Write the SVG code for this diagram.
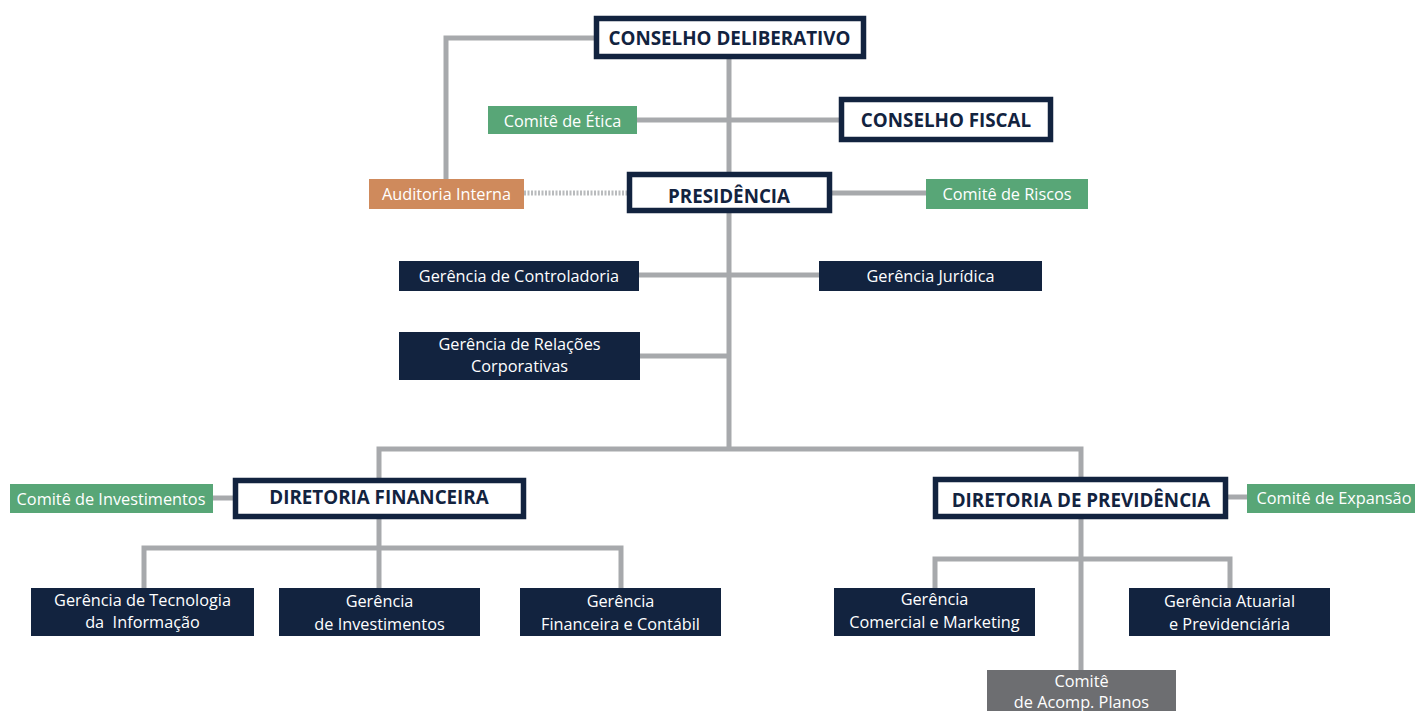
<svg xmlns="http://www.w3.org/2000/svg" width="1415" height="711" viewBox="0 0 1415 711">
<style>
.ln{stroke:#a7a9ac;stroke-width:5;fill:none}
.dot{stroke:#b9bbbd;stroke-width:5;stroke-dasharray:2 1.5;fill:none}
.big{fill:#fff;stroke:#12233f;stroke-width:5.5}
.bt{font-family:"Open Sans","Liberation Sans",sans-serif;font-weight:bold;font-size:18.8px;fill:#12233f;text-anchor:middle;dominant-baseline:central}
.navy{fill:#12233f}
.green{fill:#58a677}
.orange{fill:#cf8a5c}
.grey{fill:#6d6e71}
.t{font-family:"Open Sans","Liberation Sans",sans-serif;font-size:16.3px;fill:#fff;text-anchor:middle;dominant-baseline:central}
</style>
<rect width="1415" height="711" fill="#fff"/>
<g id="connectors">
<path class="ln" d="M729 59V449"/>
<path class="ln" d="M594 38H446V179"/>
<path class="ln" d="M637 120H840"/>
<path class="dot" d="M524 193H627"/>
<path class="ln" d="M832 193H926"/>
<path class="ln" d="M639 275H819"/>
<path class="ln" d="M640 356H729"/>
<path class="ln" d="M379 478V449H1081V478"/>
<path class="ln" d="M213 498H233"/>
<path class="ln" d="M379 518V588"/>
<path class="ln" d="M144 588V548H621V588"/>
<path class="ln" d="M1228 497H1247"/>
<path class="ln" d="M1081 519V670"/>
<path class="ln" d="M935 588V559H1230V588"/>
</g>
<g id="conselho-deliberativo"><rect class="big" x="596.5" y="18.5" width="267" height="38"/><text class="bt" x="729.5" y="38">CONSELHO DELIBERATIVO</text></g>
<g id="comite-etica"><rect class="green" x="488" y="106" width="149" height="28"/><text class="t" x="562.5" y="121">Comitê de Ética</text></g>
<g id="conselho-fiscal"><rect class="big" x="841.5" y="99.5" width="209" height="40"/><text class="bt" x="946" y="120">CONSELHO FISCAL</text></g>
<g id="auditoria-interna"><rect class="orange" x="369" y="179" width="155" height="30"/><text class="t" x="446.5" y="194">Auditoria Interna</text></g>
<g id="presidencia"><rect class="big" x="629.5" y="174.5" width="200" height="36"/><text class="bt" x="729" y="195.5">PRESIDÊNCIA</text></g>
<g id="comite-riscos"><rect class="green" x="926" y="179" width="162" height="30"/><text class="t" x="1007" y="194">Comitê de Riscos</text></g>
<g id="gerencia-controladoria"><rect class="navy" x="399" y="261" width="240" height="30"/><text class="t" x="519" y="276">Gerência de Controladoria</text></g>
<g id="gerencia-juridica"><rect class="navy" x="819" y="261" width="223" height="30"/><text class="t" x="930.5" y="276">Gerência Jurídica</text></g>
<g id="gerencia-relacoes"><rect class="navy" x="399" y="332" width="241" height="48"/><text class="t" x="519.5" y="344">Gerência de Relações</text><text class="t" x="519.5" y="366">Corporativas</text></g>
<g id="comite-investimentos"><rect class="green" x="10" y="484" width="203" height="29"/><text class="t" x="111" y="498.5">Comitê de Investimentos</text></g>
<g id="diretoria-financeira"><rect class="big" x="235.5" y="480.5" width="288" height="36"/><text class="bt" x="379" y="497">DIRETORIA FINANCEIRA</text></g>
<g id="diretoria-previdencia"><rect class="big" x="935.5" y="479.5" width="290" height="37"/><text class="bt" x="1081" y="499.5">DIRETORIA DE PREVIDÊNCIA</text></g>
<g id="comite-expansao"><rect class="green" x="1247" y="484" width="168" height="29"/><text class="t" x="1334" y="497.5">Comitê de Expansão</text></g>
<g id="gerencia-ti"><rect class="navy" x="31" y="588" width="223" height="48"/><text class="t" x="142.5" y="600">Gerência de Tecnologia</text><text class="t" x="142.5" y="622" xml:space="preserve">da  Informação</text></g>
<g id="gerencia-investimentos"><rect class="navy" x="279" y="588" width="201" height="48"/><text class="t" x="379.5" y="601">Gerência</text><text class="t" x="379.5" y="624">de Investimentos</text></g>
<g id="gerencia-financeira"><rect class="navy" x="520" y="588" width="201" height="48"/><text class="t" x="620.5" y="601">Gerência</text><text class="t" x="620.5" y="624">Financeira e Contábil</text></g>
<g id="gerencia-comercial"><rect class="navy" x="834" y="588" width="201" height="48"/><text class="t" x="934.5" y="599">Gerência</text><text class="t" x="934.5" y="622">Comercial e Marketing</text></g>
<g id="gerencia-atuarial"><rect class="navy" x="1129" y="588" width="201" height="48"/><text class="t" x="1229.5" y="601">Gerência Atuarial</text><text class="t" x="1229.5" y="624">e Previdenciária</text></g>
<g id="comite-acomp"><rect class="grey" x="987" y="670" width="189" height="41"/><text class="t" x="1081.5" y="681">Comitê</text><text class="t" x="1081.5" y="702">de Acomp. Planos</text></g>
</svg>
